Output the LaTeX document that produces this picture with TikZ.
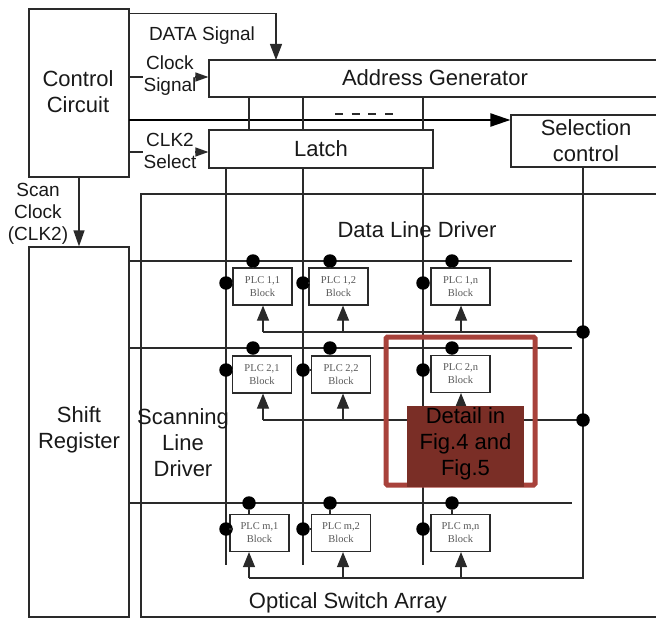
\documentclass[tikz,border=0pt]{standalone}
\usepackage{fontspec}
\setmainfont{Liberation Sans}
\newfontfamily\plcserif{Liberation Serif}
\usetikzlibrary{arrows.meta}
\definecolor{lnc}{HTML}{2A2A2A}
\definecolor{redline}{HTML}{A8423B}
\definecolor{redfill}{HTML}{7A2E26}
\newcommand{\bigtxt}{\fontsize{22}{26}\selectfont}
\newcommand{\lbltxt}{\fontsize{19}{22}\selectfont}
\newcommand{\plctxt}{\plcserif\fontsize{10.5}{13}\selectfont}
\tikzset{
  box/.style={draw=lnc, line width=1.2pt, inner sep=0pt, fill=white},
  txt/.style={inner sep=0pt, align=center, font=\bigtxt, text=black!90},
  lbl/.style={inner sep=0pt, align=center, font=\lbltxt, text=black!90},
  plc/.style={draw=lnc, line width=1.2pt, fill=white, minimum width=59pt, minimum height=37pt, inner sep=0pt, align=center, font=\plctxt, text=black!65},
  jdot/.style={circle, fill=black, inner sep=0pt, minimum size=13.5pt},
  ln/.style={draw=lnc, line width=1.2pt},
  arr/.style={draw=lnc, line width=1.2pt, -{Triangle[length=15pt,width=12pt]}},
}
\begin{document}
\begin{tikzpicture}[x=1pt,y=-1pt]
\useasboundingbox (0,0) rectangle (656,618);
\clip (0,0) rectangle (656,618);

% main boxes
\node[box, minimum width=100pt, minimum height=168pt] (ctrl) at (79,93) {};
\node[txt] (ctrlt) at (78,92) {Control\\Circuit};
\node[box, minimum width=491pt, minimum height=37pt] (addr) at (454.5,78.5) {};
\node[txt] (addrt) at (435,78) {Address Generator};
\node[box, minimum width=224pt, minimum height=38pt] (latch) at (321,149) {};
\node[txt] (latcht) at (321,149) {Latch};
\node[box, minimum width=189pt, minimum height=52pt] (sel) at (605.5,141) {};
\node[txt] (selt) at (586,141) {Selection\\control};
\node[box, minimum width=100pt, minimum height=370pt] (shift) at (79,432) {};
\node[txt] (shiftt) at (79,430) {Shift\\Register};

% array frame
\draw[ln] (700,194) -- (141,194) -- (141,617) -- (700,617);

% control signals
\coordinate (dIn) at (276,60);
\draw[ln, -{Triangle[length=16pt,width=12pt]}] ([yshift=-5pt]ctrl.north east) -| (dIn);
\node[lbl] (datal) at (202,36) {DATA Signal};

\node[lbl] (clkl) at (170,76) {Clock\\Signal};
\coordinate (clkS) at (129,77);
\draw[ln] (clkS) -- ++(14,0);
\coordinate (clkA) at (195,77);
\draw[ln, -{Triangle[length=13pt,width=9pt]}] (clkA) -- (addr.west |- clkA);

\node[lbl] (clk2l) at (170,151) {CLK2\\Select};
\coordinate (c2S) at (129,152);
\draw[ln] (c2S) -- ++(14,0);
\coordinate (c2A) at (195,152);
\draw[ln, -{Triangle[length=13pt,width=9pt]}] (c2A) -- (latch.west |- c2A);

\coordinate (thS) at (129,120);
\draw[draw=black, line width=2.2pt, -{Triangle[length=20pt,width=13pt]}] (thS) -- (sel.west |- thS);
\draw[ln, dash pattern=on 8pt off 8.7pt] (335,114) -- (394,114);

\node[lbl] (scanl) at (38,214) {Scan\\Clock\\(CLK2)};
\draw[ln, -{Triangle[length=16pt,width=11pt]}] (ctrl.south) -- (shift.north);

% column lines
\foreach \x in {249,303,423} \draw[ln] (addr.south -| \x,0) -- (latch.north -| \x,0);
\foreach \x in {226,303,423} \draw[ln] (latch.south -| \x,0) -- (\x,565);

% row lines
\foreach \y in {261,348,503} \draw[ln] (shift.east |- 0,\y) -- (572,\y);

% selection return line
\coordinate (retC) at (583,578);
\draw[ln] (sel.south -| retC) -- (retC) -- (249,578);
\draw[ln] (263,332) -- (583,332);
\draw[ln] (263,420) -- (583,420);
\node[jdot] (j1) at (583,332) {};
\node[jdot] (j2) at (583,420) {};

% texts
\node[txt] (dld) at (417,230) {Data Line Driver};
\node[txt] (sld) at (183,443) {Scanning\\Line\\Driver};
\node[txt] (osa) at (348,603) {Optical Switch Array};

% PLC blocks
\node[plc] (p11) at (262.5,286.5) {PLC 1,1\\Block};
\node[plc] (p12) at (338.5,286.5) {PLC 1,2\\Block};
\node[plc] (p1n) at (460.5,286.5) {PLC 1,n\\Block};
\node[plc] (p21) at (262,374.5) {PLC 2,1\\Block};
\node[plc] (p22) at (341,374.5) {PLC 2,2\\Block};
\node[plc] (p2n) at (460.5,374) {PLC 2,n\\Block};
\node[plc] (pm1) at (259.5,533) {PLC m,1\\Block};
\node[plc] (pm2) at (341,533) {PLC m,2\\Block};
\node[plc] (pmn) at (460.5,533) {PLC m,n\\Block};

% dots & stubs
\foreach \b/\tx/\ty/\lx/\ly/\ax/\ay in {
  p11/253/261/226/283/263/332, p12/330/261/303/283/343/332, p1n/452/261/423/283/461/332,
  p21/253/348/226/370/263/420, p22/330/348/303/370/343/420, p2n/452/348/423/370/461/420,
  pm1/249/503/226/529/249/578, pm2/330/503/303/529/343/578, pmn/452/503/423/529/461/578}{
  \node[jdot] (t\b) at (\tx,\ty) {};
  \draw[ln] (t\b) -- (t\b |- \b.north);
  \node[jdot] (l\b) at (\lx,\ly) {};
  \draw[ln] (l\b) -- (l\b -| \b.west);
  \coordinate (a\b) at (\ax,\ay);
  \draw[arr] (a\b) -- (a\b |- \b.south);
}

% detail highlight
\draw[draw=redline, line width=5pt, rounded corners=1.5pt] (386,337) rectangle (535,485);
\node[fill=redfill, minimum width=117pt, minimum height=81pt, inner sep=0pt] (det) at (465.5,446.5) {};
\node[txt, text=black] (dett) at (465.5,444) {Detail in\\Fig.4 and\\Fig.5};
\end{tikzpicture}
\end{document}
